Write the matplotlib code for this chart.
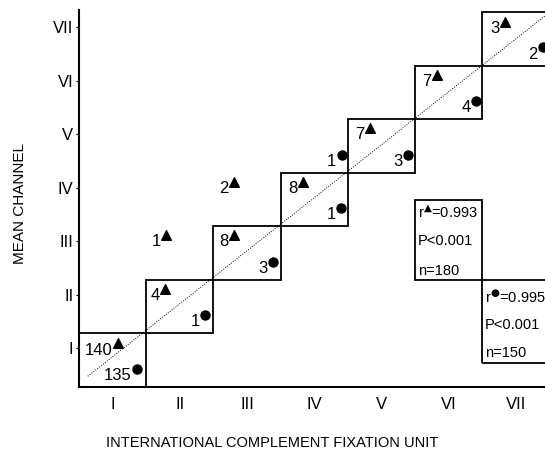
import matplotlib
matplotlib.use("Agg")
import matplotlib.pyplot as plt
from matplotlib.patches import Rectangle

plt.rcParams["font.family"] = ["Liberation Sans", "DejaVu Sans"]

roman = ["I", "II", "III", "IV", "V", "VI", "VII"]

# triangle points (marker position, count)
tri_x = [0.58, 1.28, 2.30, 1.30, 2.30, 3.33, 4.33, 5.33, 6.33]
tri_y = [0.82, 1.83, 2.84, 2.84, 3.83, 3.83, 4.84, 5.83, 6.82]
tri_n = ["140", "4", "8", "1", "2", "8", "7", "7", "3"]

# circle points
circ_x = [0.86, 1.88, 2.88, 3.90, 3.91, 4.90, 5.91, 6.90]
circ_y = [0.34, 1.35, 2.34, 3.35, 4.34, 4.34, 5.35, 6.34]
circ_n = ["135", "1", "3", "1", "1", "3", "4", "2"]

fig = plt.figure(figsize=(5.45, 4.54), dpi=100)
ax = fig.add_axes([79 / 545, 67 / 454, 466 / 545, 377 / 454])
ax.set_xlim(0, 6.93)
ax.set_ylim(0, 7.04)

for s in ["top", "right"]:
    ax.spines[s].set_visible(False)
for s in ["left", "bottom"]:
    ax.spines[s].set_linewidth(1.5)

# diagonal boxes
for i in range(7):
    ax.add_patch(Rectangle((i, i), 1, 1, fill=False, ec="black", lw=1.3, clip_on=True))

ax.plot([0.13, 7], [0.2, 7], ls=(0, (1, 1.5)), color="black", lw=0.7)

ax.scatter(tri_x, tri_y, marker="^", s=48, color="black", zorder=3, clip_on=False)
ax.scatter(circ_x, circ_y, marker="o", s=42, color="black", zorder=3)
for x, y, n in zip(tri_x, tri_y, tri_n):
    ax.annotate(n, (x, y), textcoords="offset points", xytext=(-4, -5),
                ha="right", va="center", fontsize=12)
for x, y, n in zip(circ_x, circ_y, circ_n):
    ax.annotate(n, (x, y), textcoords="offset points", xytext=(-4, -5),
                ha="right", va="center", fontsize=12)

# stats boxes
ax.add_patch(Rectangle((5, 2), 1, 1.5, fill=False, ec="black", lw=1.3))
ax.add_patch(Rectangle((6, 0.45), 1.5, 1.55, fill=False, ec="black", lw=1.3, clip_on=True))
stats1 = [r"r$^{▲}$=0.993", "P<0.001", "n=180"]
stats2 = [r"r$^{●}$=0.995", "P<0.001", "n=150"]
for k, t in enumerate(stats1):
    ax.text(5.04, 3.27 - k * 0.55, t, ha="left", va="center", fontsize=10.5)
for k, t in enumerate(stats2):
    ax.text(6.04, 1.67 - k * 0.52, t, ha="left", va="center", fontsize=10.5)

ax.set_xticks([i + 0.5 for i in range(7)])
ax.set_xticklabels(roman, fontsize=12)
ax.set_yticks([i + 0.72 for i in range(7)])
ax.set_yticklabels(roman, fontsize=12)
ax.tick_params(axis="x", length=0, pad=7)
ax.tick_params(axis="y", length=2, pad=2)

fig.text(0.5, 1 - 443 / 454, "INTERNATIONAL COMPLEMENT FIXATION UNIT",
         ha="center", va="center", fontsize=10.5)
fig.text(20 / 545, 1 - 203 / 454, "MEAN CHANNEL", rotation=90,
         ha="center", va="center", fontsize=11)

fig.savefig("out.png", dpi=100)
